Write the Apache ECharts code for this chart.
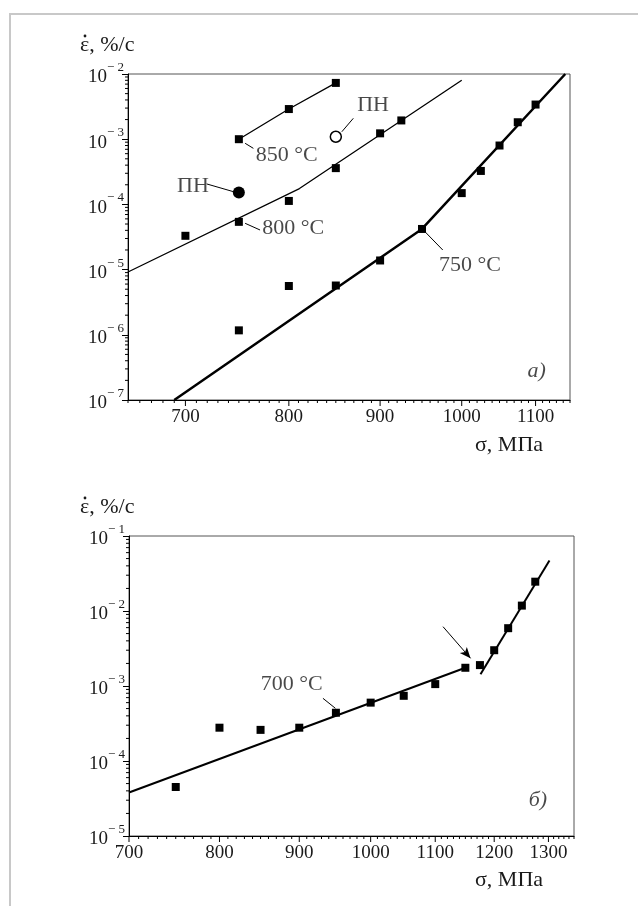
<!DOCTYPE html>
<html>
<head>
<meta charset="utf-8">
<script src="https://cdn.jsdelivr.net/npm/echarts@6/dist/echarts.min.js"></script>
<style>
html, body { margin: 0; background: #fff; }
#chart { width: 638px; height: 906px; }
</style>
</head>
<body>
<div id="chart"></div>
<script>
var FONT = '"Liberation Serif", "Times New Roman", serif';
var INK = '#000';
var TXT = '#1a1a1a';

// график а) — 850, 800, 750 °C
var sigma850 = [750, 800, 850];
var eps850 = [1.0e-3, 2.9e-3, 7.3e-3];
var sigma800 = [700, 750, 800, 850, 900, 925];
var eps800 = [3.3e-5, 5.4e-5, 1.13e-4, 3.6e-4, 1.23e-3, 1.94e-3];
var fitSigma800 = [650, 811, 1000];
var fitEps800 = [9.2e-6, 1.75e-4, 8.0e-3];
var sigma750 = [750, 800, 850, 900, 950, 1000, 1025, 1050, 1075, 1100];
var eps750 = [1.17e-6, 5.6e-6, 5.7e-6, 1.38e-5, 4.2e-5, 1.49e-4, 3.26e-4, 8.0e-4, 1.82e-3, 3.4e-3];
var fitSigma750 = [690, 950, 1143];
var fitEps750 = [1e-7, 4.2e-5, 1e-2];
var pnOpen = [850, 1.09e-3];
var pnFilled = [750, 1.52e-4];

// график б) — 700 °C
var sigma700 = [750, 800, 850, 900, 950, 1000, 1050, 1100, 1150, 1175, 1200, 1225, 1250, 1275];
var eps700 = [4.5e-5, 2.78e-4, 2.6e-4, 2.78e-4, 4.4e-4, 6.0e-4, 7.4e-4, 1.06e-3, 1.75e-3, 1.9e-3, 3.0e-3, 5.9e-3, 1.18e-2, 2.46e-2];
var fitSigma700a = [700, 1150];
var fitEps700a = [3.8e-5, 1.75e-3];
var fitSigma700b = [1176, 1302];
var fitEps700b = [1.43e-3, 4.7e-2];

// оси
var xRangeA = [650, 1150];
var yRangeA = [1e-7, 1e-2];
var xRangeB = [700, 1350];
var yRangeB = [1e-5, 1e-1];
var xLabelsA = [700, 800, 900, 1000, 1100];
var xLabelsB = [700, 800, 900, 1000, 1100, 1200, 1300];

function pairs(xs, ys) {
    return xs.map(function (x, i) { return [x, ys[i]]; });
}

// засечки: [значение x, значение y, вид (0 - ось x, 1 - ось y), крупная]
function tickData(xr, yr, labels) {
    var out = [];
    for (var v = Math.ceil(xr[0] / 10) * 10; v <= xr[1]; v += 10) {
        out.push([v, yr[0], 0, labels.indexOf(v) >= 0 ? 1 : 0]);
    }
    for (var e = Math.round(Math.log10(yr[0])); e < Math.round(Math.log10(yr[1])); e++) {
        for (var k = 2; k <= 9; k++) {
            out.push([xr[0], k * Math.pow(10, e), 1, 0]);
        }
    }
    return out;
}

function renderTick(params, api) {
    var p = api.coord([api.value(0), api.value(1)]);
    if (api.value(2) === 0) {
        var major = api.value(3) === 1;
        var kids = [{
            type: 'line',
            shape: { x1: p[0], y1: p[1], x2: p[0], y2: p[1] + (major ? 6 : 3) },
            style: { stroke: INK, lineWidth: 1 }
        }];
        if (major) {
            kids.push({
                type: 'text',
                x: p[0], y: p[1] + 8,
                style: {
                    text: String(api.value(0)), fontSize: 19, fontFamily: FONT,
                    fill: TXT, align: 'center', verticalAlign: 'top'
                }
            });
        }
        return { type: 'group', children: kids };
    }
    return {
        type: 'line',
        shape: { x1: p[0] - 3, y1: p[1], x2: p[0], y2: p[1] },
        style: { stroke: INK, lineWidth: 1 }
    };
}

function xAxisOf(idx, r) {
    return {
        type: 'log', logBase: 10, gridIndex: idx, min: r[0], max: r[1],
        axisLine: { lineStyle: { color: INK, width: 1 } },
        axisTick: { show: false }, axisLabel: { show: false },
        splitLine: { show: false }
    };
}

function yAxisOf(idx, r, n) {
    return {
        type: 'log', logBase: 10, gridIndex: idx, min: r[0], max: r[1], splitNumber: n,
        axisLine: { show: true, lineStyle: { color: INK, width: 1 } },
        axisTick: { show: true, length: 6, lineStyle: { color: INK } },
        splitLine: { show: false },
        axisLabel: {
            margin: 4,
            formatter: function (v) {
                var e = Math.round(Math.log10(v));
                return '{b|10}{s|\u2212 ' + (-e) + '}';
            },
            rich: {
                b: { fontSize: 19, fontFamily: FONT, color: TXT, lineHeight: 26, verticalAlign: 'bottom' },
                s: { fontSize: 13, fontFamily: FONT, color: TXT, lineHeight: 14, verticalAlign: 'top' }
            }
        }
    };
}

// подпись оси ординат: ε с точкой сверху
function epsTitle(x, y) {
    return {
        type: 'group', x: x, y: y, silent: true,
        children: [
            { type: 'text', x: 0, y: 0, style: { text: '\u03B5, %/\u0441', fontSize: 22, fontFamily: FONT, fill: TXT, verticalAlign: 'middle' } },
            { type: 'circle', shape: { cx: 5, cy: -9, r: 1.4 }, style: { fill: TXT } }
        ]
    };
}

var sq = { color: INK, opacity: 1 };
var lead = { color: INK, width: 1, type: 'solid' };
var noteLabel = { show: true, position: 'inside', formatter: '{b}', fontSize: 22, fontFamily: FONT, color: TXT };

var option = {
    animation: false,
    backgroundColor: '#fff',
    grid: [
        { left: 128, top: 74, width: 442, height: 326, show: true, borderColor: '#555', borderWidth: 1 },
        { left: 129, top: 536, width: 445, height: 300, show: true, borderColor: '#555', borderWidth: 1 }
    ],
    xAxis: [xAxisOf(0, xRangeA), xAxisOf(1, xRangeB)],
    yAxis: [yAxisOf(0, yRangeA, 5), yAxisOf(1, yRangeB, 4)],
    graphic: [
        { type: 'rect', shape: { x: 10, y: 14, width: 700, height: 1000 }, style: { fill: 'none', stroke: '#c8c8c8', lineWidth: 2 }, silent: true },
        epsTitle(80, 45),
        epsTitle(80, 507),
        { type: 'text', x: 509, y: 445, style: { text: '\u03C3, \u041C\u041F\u0430', fontSize: 22, fontFamily: FONT, fill: TXT, align: 'center', verticalAlign: 'middle' } },
        { type: 'text', x: 509, y: 880, style: { text: '\u03C3, \u041C\u041F\u0430', fontSize: 22, fontFamily: FONT, fill: TXT, align: 'center', verticalAlign: 'middle' } }
    ],
    series: [
        // засечки и подписи осей
        { type: 'custom', xAxisIndex: 0, yAxisIndex: 0, clip: false, silent: true, renderItem: renderTick, data: tickData(xRangeA, yRangeA, xLabelsA) },
        { type: 'custom', xAxisIndex: 1, yAxisIndex: 1, clip: false, silent: true, renderItem: renderTick, data: tickData(xRangeB, yRangeB, xLabelsB) },

        // а)
        { name: '850', type: 'line', xAxisIndex: 0, yAxisIndex: 0, data: pairs(sigma850, eps850),
          symbol: 'rect', symbolSize: 8, itemStyle: sq, lineStyle: { color: INK, width: 1.3 } },
        { name: '800 fit', type: 'line', xAxisIndex: 0, yAxisIndex: 0, data: pairs(fitSigma800, fitEps800),
          showSymbol: false, symbol: 'none', lineStyle: { color: INK, width: 1.3 } },
        { name: '800', type: 'scatter', xAxisIndex: 0, yAxisIndex: 0, data: pairs(sigma800, eps800),
          symbol: 'rect', symbolSize: 8, itemStyle: sq },
        { name: '750 fit', type: 'line', xAxisIndex: 0, yAxisIndex: 0, data: pairs(fitSigma750, fitEps750),
          showSymbol: false, symbol: 'none', lineStyle: { color: INK, width: 2.5 } },
        { name: '750', type: 'scatter', xAxisIndex: 0, yAxisIndex: 0, data: pairs(sigma750, eps750),
          symbol: 'rect', symbolSize: 8, itemStyle: sq },
        { name: 'ПН', type: 'scatter', xAxisIndex: 0, yAxisIndex: 0, data: [pnOpen],
          symbol: 'circle', symbolSize: 11, itemStyle: { color: '#fff', borderColor: INK, borderWidth: 1.5, opacity: 1 } },
        { name: 'ПН ', type: 'scatter', xAxisIndex: 0, yAxisIndex: 0, data: [pnFilled],
          symbol: 'circle', symbolSize: 12, itemStyle: sq },
        { name: 'notesA', type: 'scatter', xAxisIndex: 0, yAxisIndex: 0, symbolSize: 0, silent: true, label: noteLabel,
          data: [
              { name: '850 °C', value: [797.8, 5.73e-4] },
              { name: '800 °C', value: [804.6, 4.3e-5] },
              { name: '750 °C', value: [1010.6, 1.18e-5] },
              { name: 'ПН', value: [891.9, 3.35e-3] },
              { name: 'ПН', value: [706.9, 1.87e-4] },
              { name: 'а)', value: [1101.5, 2.72e-7], label: { fontStyle: 'italic' } }
          ],
          markLine: { silent: true, symbol: 'none', label: { show: false }, lineStyle: lead, animation: false,
              data: [
                  [{ coord: [756.1, 8.65e-4] }, { coord: [764.2, 7.24e-4] }],
                  [{ coord: [756.1, 5.13e-5] }, { coord: [770.8, 4.05e-5] }],
                  [{ coord: [856.6, 1.30e-3] }, { coord: [869.4, 2.09e-3] }],
                  [{ coord: [719.5, 2.06e-4] }, { coord: [744.6, 1.57e-4] }],
                  [{ coord: [951.6, 4.05e-5] }, { coord: [975.8, 2.0e-5] }]
              ] } },

        // б)
        { name: '700 fit a', type: 'line', xAxisIndex: 1, yAxisIndex: 1, data: pairs(fitSigma700a, fitEps700a),
          showSymbol: false, symbol: 'none', lineStyle: { color: INK, width: 2 } },
        { name: '700 fit b', type: 'line', xAxisIndex: 1, yAxisIndex: 1, data: pairs(fitSigma700b, fitEps700b),
          showSymbol: false, symbol: 'none', lineStyle: { color: INK, width: 2 } },
        { name: '700', type: 'scatter', xAxisIndex: 1, yAxisIndex: 1, data: pairs(sigma700, eps700),
          symbol: 'rect', symbolSize: 8, itemStyle: sq },
        { name: 'notesB', type: 'scatter', xAxisIndex: 1, yAxisIndex: 1, symbolSize: 0, silent: true, label: noteLabel,
          data: [
              { name: '700 °C', value: [890.1, 1.06e-3] },
              { name: 'б)', value: [1279.9, 3.02e-5], label: { fontStyle: 'italic' } }
          ],
          markLine: { silent: true, symbol: 'none', label: { show: false }, lineStyle: lead, animation: false,
              data: [
                  [{ coord: [932, 6.85e-4] }, { coord: [949.3, 5.04e-4] }],
                  [{ coord: [1112.7, 6.18e-3], symbol: 'none' }, { coord: [1158.8, 2.34e-3], symbol: 'arrow', symbolSize: [7, 11] }]
              ] } }
    ]
};

var myChart = echarts.init(document.getElementById('chart'), null, { renderer: 'canvas' });
myChart.setOption(option);
</script>
</body>
</html>
